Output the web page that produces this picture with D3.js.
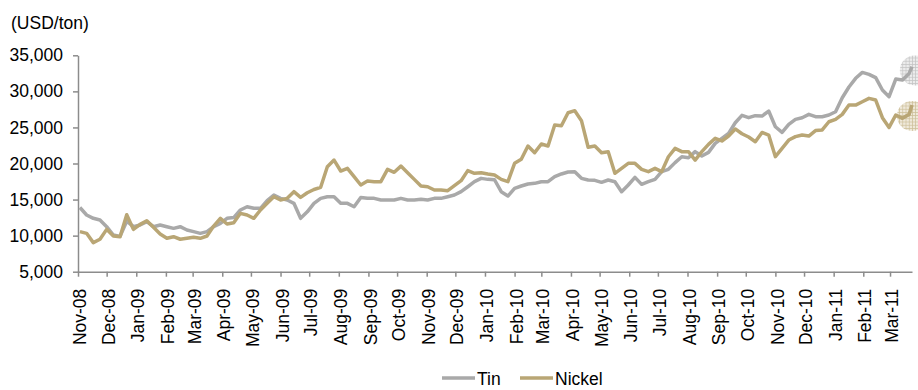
<!DOCTYPE html>
<html>
<head>
<meta charset="utf-8">
<script src="https://cdn.jsdelivr.net/npm/d3@7"></script>
<style>
  body { margin: 0; background: #fff; }
  svg { display: block; font-family: "Liberation Sans", Arial, sans-serif; }
  .axis text { font-size: 17.5px; fill: #000; }
  .axis path, .axis line { stroke: #8c8c8c; stroke-width: 1.5; }
</style>
</head>
<body>
<script>
// weekly closing prices, USD/ton
var dates = [
  "2008-11-03","2008-11-10","2008-11-17","2008-11-24","2008-12-01","2008-12-08","2008-12-15","2008-12-22","2008-12-29",
  "2009-01-05","2009-01-12","2009-01-19","2009-01-26","2009-02-02","2009-02-09","2009-02-16","2009-02-23",
  "2009-03-02","2009-03-09","2009-03-16","2009-03-23","2009-03-30","2009-04-06","2009-04-13","2009-04-20","2009-04-27",
  "2009-05-04","2009-05-11","2009-05-18","2009-05-25","2009-06-01","2009-06-08","2009-06-15","2009-06-22","2009-06-29",
  "2009-07-06","2009-07-13","2009-07-20","2009-07-27","2009-08-03","2009-08-10","2009-08-17","2009-08-24","2009-08-31",
  "2009-09-07","2009-09-14","2009-09-21","2009-09-28","2009-10-05","2009-10-12","2009-10-19","2009-10-26",
  "2009-11-02","2009-11-09","2009-11-16","2009-11-23","2009-11-30","2009-12-07","2009-12-14","2009-12-21","2009-12-28",
  "2010-01-04","2010-01-11","2010-01-18","2010-01-25","2010-02-01","2010-02-08","2010-02-15","2010-02-22",
  "2010-03-01","2010-03-08","2010-03-15","2010-03-22","2010-03-29","2010-04-05","2010-04-12","2010-04-19","2010-04-26",
  "2010-05-03","2010-05-10","2010-05-17","2010-05-24","2010-05-31","2010-06-07","2010-06-14","2010-06-21","2010-06-28",
  "2010-07-05","2010-07-12","2010-07-19","2010-07-26","2010-08-02","2010-08-09","2010-08-16","2010-08-23","2010-08-30",
  "2010-09-06","2010-09-13","2010-09-20","2010-09-27","2010-10-04","2010-10-11","2010-10-18","2010-10-25",
  "2010-11-01","2010-11-08","2010-11-15","2010-11-22","2010-11-29","2010-12-06","2010-12-13","2010-12-20","2010-12-27",
  "2011-01-03","2011-01-10","2011-01-17","2011-01-24","2011-01-31","2011-02-07","2011-02-14","2011-02-21","2011-02-28",
  "2011-03-07","2011-03-14","2011-03-21","2011-03-24"
];

var tin = [
  13900,12860,12400,12170,11240,10090,9900,12000,11240,
  11470,11930,11240,11470,11240,11010,11240,10780,
  10550,10320,10550,11240,11700,12400,12500,13550,14010,
  13790,13790,14850,15630,15170,14940,14480,12400,13300,
  14480,15170,15400,15400,14480,14480,14010,15300,15170,
  15170,14940,14940,14940,15170,14940,14940,15030,
  14940,15170,15170,15400,15630,16100,16780,17480,17940,
  17800,17750,16090,15490,16550,16880,17160,17250,
  17480,17480,18170,18550,18820,18870,17940,17710,17670,
  17390,17710,17480,16090,17020,18080,17110,17480,17800,
  18870,19190,20120,20940,20800,21640,21040,21540,22790,
  23490,24180,25650,26670,26350,26630,26580,27270,
  25100,24310,25420,26120,26350,26810,26490,26490,26720,
  27180,29120,30600,31810,32630,32350,31900,30190,29260,
  31710,31570,32490,33420
];

var nickel = [
  10550,10320,9030,9500,10870,9950,9850,12900,10870,
  11560,12060,11150,10230,9630,9850,9500,9630,
  9770,9630,9950,11330,12400,11610,11790,13090,12860,
  12400,13550,14480,15400,14940,15170,16090,15300,15940,
  16400,16700,19550,20480,18960,19330,18170,17020,17570,
  17480,17480,19190,18780,19640,18730,17800,16880,
  16780,16320,16320,16230,16920,17620,19010,18640,18730,
  18550,18410,17800,17480,20020,20580,22430,21500,
  22700,22430,25340,25240,27040,27320,25940,22250,22430,
  21500,21640,18640,19330,20020,20020,19190,18870,19330,
  18870,20940,22100,21640,21640,20480,21640,22650,23490,
  23120,23810,24790,24130,23670,23020,24310,23950,
  20950,22100,23250,23720,23950,23810,24560,24650,25790,
  26120,26810,28100,28100,28560,29030,28800,26350,25000,
  26720,26260,26810,28100
];

var seriesNames = ["Tin", "Nickel"];
var seriesColors = ["#a9a9a9", "#b9a675"];
var yTicks = [5000, 10000, 15000, 20000, 25000, 30000, 35000];

// highlighted latest levels (hatched circles)
var markerDates = ["2011-03-27", "2011-03-24"];
var markerValues = [32900, 26600];

var w = 918, h = 390;
var plotLeft = 78, plotRight = 912, plotTop = 55.3, plotBottom = 271.7;

var parseTime = d3.timeParse("%Y-%m-%d");
var fmtMonth = d3.timeFormat("%b-%y");

var svg = d3.select("body").append("svg")
  .attr("width", w)
  .attr("height", h);

var defs = svg.append("defs");
function hatch(id, bg, stroke) {
  var p = defs.append("pattern")
    .attr("id", id)
    .attr("width", 3.2).attr("height", 3.2)
    .attr("patternUnits", "userSpaceOnUse");
  p.append("rect").attr("width", 3.2).attr("height", 3.2).attr("fill", bg);
  p.append("path").attr("d", "M0 0.4H3.2M0.4 0V3.2")
    .attr("stroke", stroke).attr("stroke-width", 0.7);
}
hatch("hatchTin", "#ececec", "#c3c3c3");
hatch("hatchNickel", "#efe9da", "#cdbf99");

var xScale = d3.scaleTime()
  .domain([parseTime("2008-11-01"), parseTime("2011-03-24")])
  .range([plotLeft, plotRight]);

var yScale = d3.scaleLinear()
  .domain([5000, 35000])
  .range([plotBottom, plotTop]);

// y axis
var yAxis = d3.axisLeft(yScale)
  .tickValues(yTicks)
  .tickFormat(d3.format(","))
  .tickSize(5)
  .tickSizeOuter(0)
  .tickPadding(10);

svg.append("g")
  .attr("class", "axis")
  .attr("transform", "translate(" + plotLeft + ",0)")
  .call(yAxis);

// x axis, one tick per month
var xAxis = d3.axisBottom(xScale)
  .ticks(d3.timeMonth.every(1))
  .tickFormat(fmtMonth)
  .tickSize(5)
  .tickSizeOuter(0);

var gx = svg.append("g")
  .attr("class", "axis")
  .attr("transform", "translate(0," + plotBottom + ")")
  .call(xAxis);

gx.selectAll("text")
  .attr("transform", "rotate(-90)")
  .attr("text-anchor", "end")
  .attr("x", -17)
  .attr("y", 1.5)
  .attr("dy", "0.35em");

// unit label
svg.append("text")
  .attr("x", 11)
  .attr("y", 29)
  .attr("font-size", "17.5px")
  .text("(USD/ton)");

// hatched markers, behind the lines
svg.selectAll("circle.mark")
  .data(markerDates)
  .enter().append("circle")
  .attr("class", "mark")
  .attr("cx", function(d) { return xScale(parseTime(d)); })
  .attr("cy", function(d, i) { return yScale(markerValues[i]); })
  .attr("r", 15)
  .attr("fill", function(d, i) { return i === 0 ? "url(#hatchTin)" : "url(#hatchNickel)"; });

// lines
var rows = dates.map(function(d, i) {
  return { date: parseTime(d), tin: tin[i], nickel: nickel[i] };
});

var line = function(key) {
  return d3.line()
    .x(function(d) { return xScale(d.date); })
    .y(function(d) { return yScale(d[key]); });
};

svg.append("path")
  .datum(rows)
  .attr("fill", "none")
  .attr("stroke", seriesColors[0])
  .attr("stroke-width", 3.5)
  .attr("stroke-linejoin", "round")
  .attr("d", line("tin"));

svg.append("path")
  .datum(rows)
  .attr("fill", "none")
  .attr("stroke", seriesColors[1])
  .attr("stroke-width", 3.5)
  .attr("stroke-linejoin", "round")
  .attr("d", line("nickel"));

// legend
var legendX = [442, 520];
var lg = svg.selectAll("g.legend")
  .data(seriesNames)
  .enter().append("g")
  .attr("class", "legend")
  .attr("transform", function(d, i) { return "translate(" + legendX[i] + ",378)"; });

lg.append("line")
  .attr("x1", 0).attr("x2", 33)
  .attr("stroke", function(d, i) { return seriesColors[i]; })
  .attr("stroke-width", 3.5);

lg.append("text")
  .attr("x", 35)
  .attr("y", 6.5)
  .attr("font-size", "17.5px")
  .text(function(d) { return d; });
</script>
</body>
</html>
